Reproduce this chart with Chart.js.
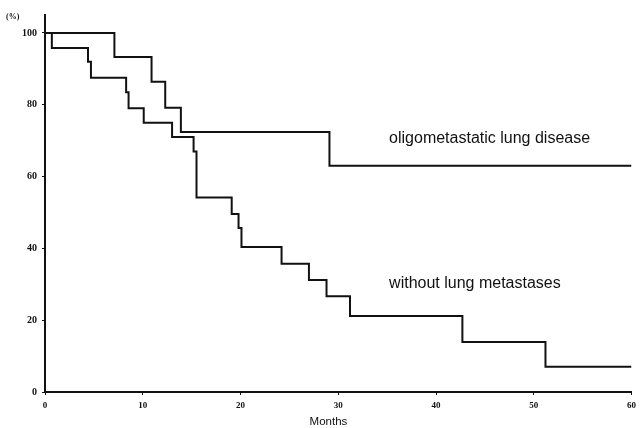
<!DOCTYPE html>
<html><head><meta charset="utf-8">
<script src="https://cdn.jsdelivr.net/npm/chart.js@4"></script>
<style>html,body{margin:0;padding:0;background:#fff}canvas{display:block}</style>
</head><body>
<canvas id="c" width="641" height="428"></canvas>
<script>
const xTicks = [0, 10, 20, 30, 40, 50, 60];
const yTicks = [0, 20, 40, 60, 80, 100];
const oligoTimes = [0, 7.1, 10.9, 12.3, 13.9, 29.1, 60];
const oligoSurv  = [100, 93.3, 86.4, 79.2, 72.4, 63.0, 63.0];
const withoutTimes = [0, 0.7, 4.4, 4.7, 8.3, 8.55, 10.1, 13.0, 15.2, 15.5, 19.1, 19.8, 20.1, 24.2, 27.0, 28.8, 31.2, 42.7, 51.2, 60];
const withoutSurv  = [100, 95.8, 92.0, 87.5, 83.5, 79.0, 75.0, 71.0, 67.0, 54.2, 49.6, 45.7, 40.4, 35.7, 31.2, 26.7, 21.2, 13.9, 7.0, 7.0];
const seriesLabels = ['oligometastatic lung disease', 'without lung metastases'];
const xTitle = 'Months';
const yTitle = '(%)';
const labelAnchors = [[35.2, 70.5], [35.2, 30.2]];

const toPts = (xs, ys) => xs.map((x, i) => ({x, y: ys[i]}));

const textPlugin = {
  id: 'txt',
  afterDraw(chart) {
    const {ctx, scales: {x, y}} = chart;
    ctx.save();
    ctx.fillStyle = '#111';
    ctx.font = '16px "Liberation Sans", Arial, sans-serif';
    ctx.textBaseline = 'middle';
    ctx.textAlign = 'left';
    seriesLabels.forEach((t, i) => {
      ctx.fillText(t, x.getPixelForValue(labelAnchors[i][0]), y.getPixelForValue(labelAnchors[i][1]));
    });
    ctx.textAlign = 'center';
    ctx.font = '11.5px "Liberation Sans", Arial, sans-serif';
    ctx.fillText(xTitle, x.getPixelForValue(29.0), 422);
    ctx.textAlign = 'left';
    ctx.font = 'bold 8px "Liberation Serif", serif';
    ctx.fillText(yTitle, 6, 17);
    ctx.restore();
  }
};

new Chart(document.getElementById('c'), {
  type: 'line',
  data: {
    datasets: [
      {label: seriesLabels[0], data: toPts(oligoTimes, oligoSurv), stepped: 'before', borderColor: '#111', borderWidth: 2, pointRadius: 0, fill: false},
      {label: seriesLabels[1], data: toPts(withoutTimes, withoutSurv), stepped: 'before', borderColor: '#111', borderWidth: 2, pointRadius: 0, fill: false}
    ]
  },
  options: {
    responsive: false,
    animation: false,
    devicePixelRatio: 1,
    layout: {padding: {top: 15, right: 7, left: 0, bottom: 0}},
    plugins: {legend: {display: false}, tooltip: {enabled: false}},
    scales: {
      x: {
        type: 'linear', min: 0, max: 60,
        afterBuildTicks: s => { s.ticks = xTicks.map(v => ({value: v})); },
        afterFit: s => { s.height = 36; },
        grid: {display: true, drawOnChartArea: false, drawTicks: true, tickLength: 3, color: '#111'},
        border: {color: '#111', width: 2},
        ticks: {color: '#111', padding: 5, font: {family: '"Liberation Serif", serif', size: 9, weight: 'bold'}, maxRotation: 0},
        title: {display: false}
      },
      y: {
        min: 0, max: 105,
        afterBuildTicks: s => { s.ticks = yTicks.map(v => ({value: v})); },
        afterFit: s => { s.width = 45; },
        grid: {display: true, drawOnChartArea: false, drawTicks: true, tickLength: 3, color: '#111'},
        border: {color: '#111', width: 2},
        ticks: {color: '#111', padding: 5, font: {family: '"Liberation Serif", serif', size: 10, weight: 'bold'}}
      }
    }
  },
  plugins: [textPlugin]
});
</script>
</body></html>
